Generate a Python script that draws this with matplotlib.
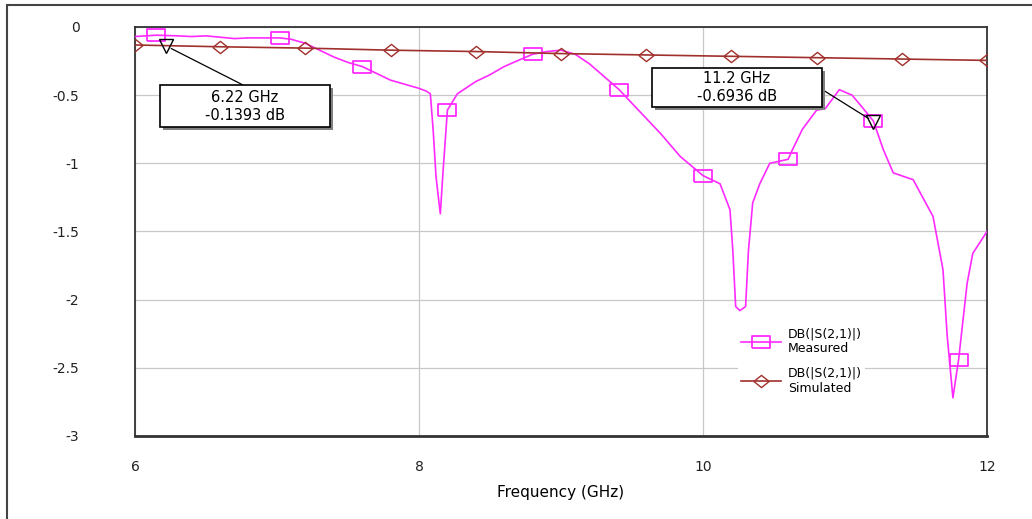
import numpy as np
import matplotlib.pyplot as plt
from matplotlib.patches import Rectangle

# datos medidos (DB(|S(2,1)|) Measured)
meas_f = [6.0, 6.15, 6.3, 6.4, 6.5, 6.6, 6.7, 6.8, 6.9, 7.02, 7.1, 7.2, 7.3, 7.4, 7.5,
          7.6, 7.7, 7.8, 7.9, 8.0, 8.05, 8.08, 8.10, 8.12, 8.15, 8.17, 8.2, 8.27,
          8.4, 8.5, 8.6, 8.71, 8.8, 8.9, 9.0, 9.1, 9.2, 9.3, 9.41, 9.5, 9.6, 9.7,
          9.84, 10.0, 10.12, 10.19, 10.21, 10.23, 10.26, 10.3, 10.32, 10.35, 10.4,
          10.47, 10.6, 10.63, 10.7, 10.8, 10.86, 10.96, 11.05, 11.13, 11.2, 11.27,
          11.34, 11.48, 11.62, 11.69, 11.72, 11.76, 11.8, 11.86, 11.9, 11.95, 12.0]
meas_db = [-0.07, -0.06, -0.065, -0.07, -0.065, -0.075, -0.085, -0.08, -0.08, -0.08,
           -0.09, -0.12, -0.17, -0.22, -0.26, -0.29, -0.34, -0.39, -0.42, -0.45,
           -0.47, -0.49, -0.76, -1.1, -1.37, -1.05, -0.61, -0.49, -0.40, -0.35,
           -0.29, -0.24, -0.20, -0.18, -0.17, -0.20, -0.27, -0.36, -0.46, -0.56,
           -0.67, -0.78, -0.95, -1.09, -1.15, -1.34, -1.64, -2.05, -2.08, -2.05,
           -1.64, -1.29, -1.15, -1.0, -0.97, -0.9, -0.75, -0.61, -0.6, -0.46,
           -0.5, -0.6, -0.69, -0.9, -1.07, -1.12, -1.39, -1.78, -2.27, -2.72,
           -2.44, -1.88, -1.66, -1.58, -1.5]
meas_mk = [6.15, 7.02, 7.6, 8.2, 8.8, 9.41, 10.0, 10.6, 11.2, 11.8]

# datos simulados (DB(|S(2,1)|) Simulated)
sim_f = [6.0, 6.6, 7.2, 7.8, 8.4, 9.0, 9.6, 10.2, 10.8, 11.4, 12.0]
sim_db = [-0.132, -0.145, -0.155, -0.17, -0.18, -0.195, -0.205, -0.215, -0.225, -0.235, -0.245]

# marcadores
mk_f = [6.22, 11.2]
mk_db = [-0.1393, -0.6936]
mk_txt = ["6.22 GHz\n-0.1393 dB", "11.2 GHz\n-0.6936 dB"]

xticks = [6, 8, 10, 12]
yticks = [0, -0.5, -1, -1.5, -2, -2.5, -3]
ylabels = ["0", "-0.5", "-1", "-1.5", "-2", "-2.5", "-3"]

magenta = "#FF2AFF"
darkred = "#A0302C"

rect = [(-1.5, -1), (1.5, -1), (1.5, 1), (-1.5, 1), (-1.5, -1)]
diam = [(-1, 0), (0, 0.8), (1, 0), (0, -0.8), (-1, 0)]

fig = plt.figure(figsize=(10.32, 5.19), dpi=100)
ax = fig.add_axes([135/1032, 1-436/519, 852/1032, 409/519])

idx = [i for i, f in enumerate(meas_f) if f in meas_mk]
ax.plot(meas_f, meas_db, color=magenta, lw=1.2, marker=rect, markersize=13.5,
        mfc="none", mec=magenta, mew=1.3, markevery=idx,
        label="DB(|S(2,1)|)\nMeasured", zorder=3)
ax.plot(sim_f, sim_db, color=darkred, lw=1.2, marker=diam, markersize=11,
        mfc="none", mec=darkred, mew=1.0, label="DB(|S(2,1)|)\nSimulated", zorder=3)

ax.plot(mk_f, mk_db, ls="none", marker="v", markersize=10, mfc="none",
        mec="black", mew=1.0, zorder=5)

# cajas de los marcadores (en pixeles de la figura)
boxes = [(160, 85, 170, 42, 243, 85), (652, 68, 170, 39, 823, 90)]
for (bx, by, bw, bh, lx, ly), f, d, t in zip(boxes, mk_f, mk_db, mk_txt):
    x0 = bx/1032
    y0 = 1 - (by + bh)/519
    fig.patches.append(Rectangle((x0 + 3/1032, y0 - 3/519), bw/1032, bh/519,
                                 transform=fig.transFigure, facecolor="#808080",
                                 edgecolor="none", zorder=6))
    fig.patches.append(Rectangle((x0, y0), bw/1032, bh/519, transform=fig.transFigure,
                                 facecolor="white", edgecolor="black", lw=1.2, zorder=7))
    fig.text(x0 + bw/2/1032, y0 + bh/2/519, t, ha="center", va="center",
             fontsize=10.5, linespacing=1.25, zorder=8)
    ax.annotate("", xy=(f, d), xytext=(lx/1032, 1 - ly/519), textcoords="figure fraction",
                arrowprops=dict(arrowstyle="-", color="black", lw=0.9, shrinkA=0, shrinkB=4),
                zorder=5)

ax.set_xlim(6, 12)
ax.set_ylim(-3, 0)
ax.set_xticks(xticks)
ax.set_xticklabels([str(x) for x in xticks])
ax.set_yticks(yticks)
ax.set_yticklabels(ylabels)
ax.tick_params(length=0, labelsize=10, colors="#222222")
ax.tick_params(axis="y", pad=40)
ax.tick_params(axis="x", pad=17)
ax.grid(True, color="#C8C8C8", lw=0.9)
ax.set_axisbelow(True)
for s in ax.spines.values():
    s.set_color("#333333")
    s.set_linewidth(1.3)
ax.spines["bottom"].set_linewidth(2)
ax.set_xlabel("Frequency (GHz)", fontsize=11, labelpad=8)

leg = ax.legend(loc="upper left", bbox_to_anchor=(0.70, 0.29), frameon=True,
                fontsize=9, handlelength=3.2, labelspacing=0.9, borderpad=0.3,
                handletextpad=0.5)
leg.get_frame().set_edgecolor("none")
leg.get_frame().set_facecolor("white")
leg.get_frame().set_alpha(1)

# marco exterior
fig.patches.append(Rectangle((7/1032, -0.01), 1.0, 1 - 5/519 + 0.01,
                             transform=fig.transFigure, fill=False,
                             edgecolor="#444444", lw=1.5))

fig.savefig("out.png", dpi=100)
